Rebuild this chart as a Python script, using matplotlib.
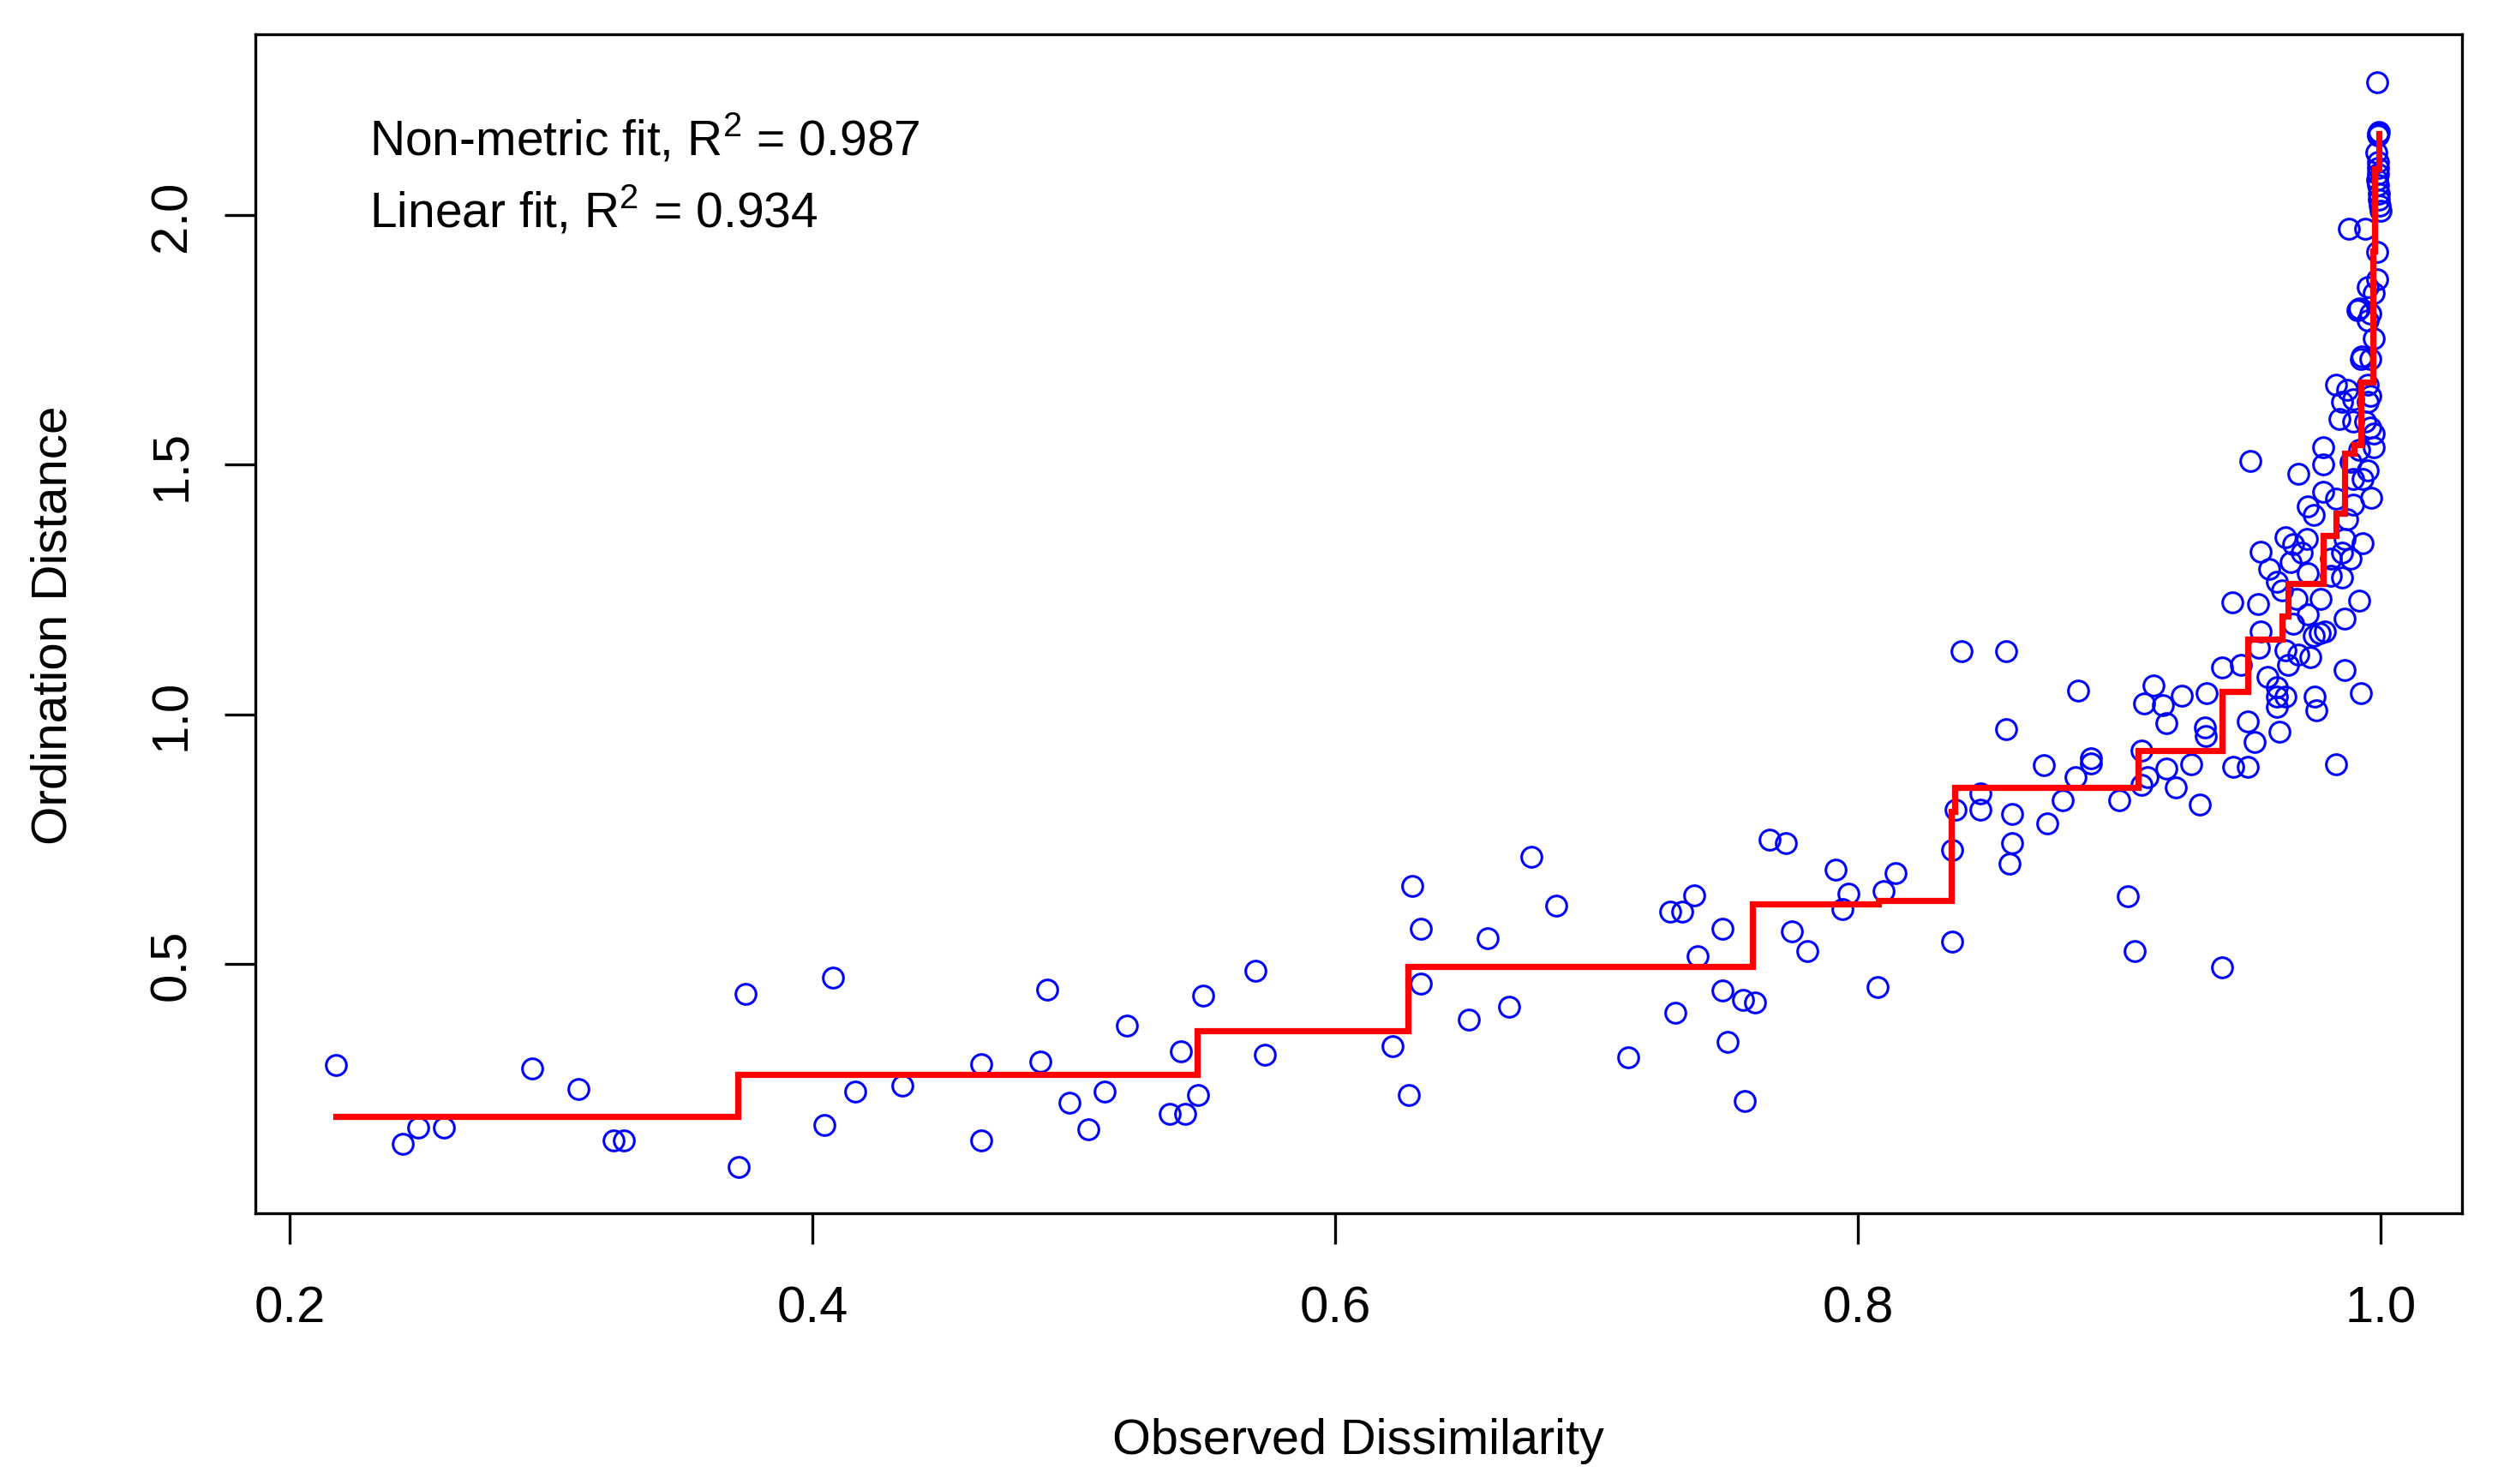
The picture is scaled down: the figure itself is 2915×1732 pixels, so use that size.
import matplotlib
matplotlib.use("Agg")
import matplotlib.pyplot as plt

plt.rcParams['font.family'] = ['Liberation Sans', 'DejaVu Sans']

# observed dissimilarity vs ordination distance
obs_low = [0.2177, 0.2431, 0.2490, 0.2589, 0.2925, 0.3105, 0.3237, 0.3277, 0.3717, 0.3743,
           0.4044, 0.4078, 0.4164, 0.4344, 0.4646, 0.4646, 0.4872, 0.4896, 0.4982, 0.5055,
           0.5116, 0.5201, 0.5366, 0.5409, 0.5427, 0.5476, 0.5494, 0.5695, 0.5732]
ord_low = [0.297, 0.140, 0.172, 0.172, 0.290, 0.250, 0.146, 0.146, 0.093, 0.440,
           0.178, 0.472, 0.244, 0.257, 0.299, 0.146, 0.305, 0.449, 0.222, 0.168,
           0.245, 0.376, 0.200, 0.324, 0.200, 0.238, 0.436, 0.487, 0.318]

obs_mid = [0.6220, 0.6281, 0.6293, 0.6328, 0.6328, 0.6511, 0.6583, 0.6666, 0.6750, 0.6847,
           0.7122, 0.7281, 0.7302, 0.7327, 0.7374, 0.7386, 0.7483, 0.7483, 0.7500, 0.7562,
           0.7567, 0.7607, 0.7662, 0.7726, 0.7749, 0.7808, 0.7916, 0.7940, 0.7963, 0.8074,
           0.8097, 0.8144, 0.8362, 0.8362, 0.8373, 0.8398, 0.8470, 0.8470, 0.8566, 0.8566,
           0.8591, 0.8591, 0.8579, 0.8711, 0.8725, 0.8783, 0.8833, 0.8842, 0.8892, 0.8892,
           0.9001, 0.9034, 0.9059, 0.9084, 0.9084]
ord_mid = [0.335, 0.237, 0.656, 0.570, 0.460, 0.388, 0.551, 0.414, 0.714, 0.616,
           0.312, 0.604, 0.402, 0.604, 0.638, 0.516, 0.570, 0.447, 0.344, 0.427,
           0.226, 0.422, 0.748, 0.742, 0.565, 0.525, 0.689, 0.610, 0.640, 0.453,
           0.645, 0.682, 0.728, 0.545, 0.808, 1.127, 0.842, 0.808, 1.127, 0.970,
           0.801, 0.742, 0.701, 0.898, 0.782, 0.828, 0.874, 1.048, 0.911, 0.902,
           0.828, 0.636, 0.525, 0.928, 0.859]

obs_upper = [0.9096, 0.9131, 0.9168, 0.9180, 0.9238, 0.9335, 0.9327, 0.9332, 0.9110, 0.9180,
             0.9277, 0.9218, 0.9310, 0.9394, 0.9394, 0.9465, 0.9438, 0.9492, 0.9492, 0.9520,
             0.9613, 0.9432, 0.9503, 0.9531, 0.9542, 0.9575, 0.9542, 0.9536, 0.9569, 0.9602,
             0.9602, 0.9602, 0.9635, 0.9646, 0.9635, 0.9831, 0.9864, 0.9924, 0.9749, 0.9755]
ord_upper = [1.022, 1.057, 1.019, 0.982, 1.037, 1.042, 0.974, 0.957, 0.874, 0.891,
             0.899, 0.854, 0.819, 0.493, 1.094, 1.099, 0.894, 0.894, 0.985, 0.945,
             0.965, 1.225, 1.507, 1.220, 1.325, 1.291, 1.165, 1.134, 1.074, 1.054,
             1.036, 1.014, 1.036, 1.099, 1.128, 0.899, 1.088, 1.042, 1.036, 1.008]

obs_dense = [0.9782, 0.9782, 0.9842, 0.9687, 0.9782, 0.9722, 0.9744, 0.9963, 0.9930, 0.9897,
             0.9635, 0.9667, 0.9717, 0.9700, 0.9656, 0.9602, 0.9624, 0.9722, 0.9853, 0.9930,
             0.9864, 0.9810, 0.9853, 0.9810, 0.9771, 0.9919, 0.9864, 0.9722, 0.9667, 0.9766,
             0.9744, 0.9788, 0.9684, 0.9733,
             0.9831, 0.9951, 0.9853, 0.9962, 0.9940, 0.9973, 0.9918, 0.9973, 0.9885, 0.9951,
             0.9896, 0.9831, 0.9874, 0.9885, 0.9678]
ord_dense = [1.534, 1.500, 1.591, 1.482, 1.446, 1.417, 1.400, 1.434, 1.471, 1.420,
             1.354, 1.340, 1.351, 1.323, 1.305, 1.265, 1.248, 1.283, 1.323, 1.343,
             1.351, 1.311, 1.274, 1.277, 1.231, 1.228, 1.191, 1.200, 1.182, 1.162,
             1.157, 1.165, 1.120, 1.114,
             1.660, 1.660, 1.626, 1.637, 1.586, 1.563, 1.529, 1.534, 1.506, 1.489,
             1.471, 1.431, 1.391, 1.311, 1.231]

obs_top = [0.9987, 0.9992, 0.9990, 0.9995, 0.9990, 0.9990, 0.9990, 0.9995, 0.9998, 1.0000,
           0.9880, 0.9940, 0.9987, 0.9987, 0.9951, 0.9973, 0.9913, 0.9918, 0.9962, 0.9951,
           0.9973, 0.9924, 0.9928, 0.9962, 0.9874, 0.9896, 0.9951, 0.9896, 0.9962,
           0.9985, 0.9992, 0.9988, 0.9995]
ord_top = [2.2665, 2.163, 2.160, 2.166, 2.106, 2.083, 2.060, 2.043, 2.018, 2.009,
           1.972, 1.972, 1.926, 1.872, 1.855, 1.843, 1.809, 1.812, 1.803, 1.789,
           1.752, 1.712, 1.716, 1.712, 1.649, 1.631, 1.626, 1.586, 1.574,
           2.125, 2.095, 2.070, 2.030]

observed = obs_low + obs_mid + obs_upper + obs_dense + obs_top
ordination = ord_low + ord_mid + ord_upper + ord_dense + ord_top

# isotonic (non-metric) fit, step edges
step_x = [0.2174, 0.3713, 0.547, 0.6278, 0.7598, 0.8079, 0.8358, 0.8371, 0.9073, 0.9393,
          0.9491, 0.9622, 0.9646, 0.978, 0.983, 0.9863, 0.990, 0.9924, 0.9972, 0.9976, 0.9994]
step_y = [0.1945, 0.279, 0.3656, 0.4955, 0.620, 0.627, 0.8055, 0.8535, 0.928, 1.0455,
          1.151, 1.1968, 1.2615, 1.3586, 1.4027, 1.5228, 1.540, 1.6658, 1.927, 2.092, 2.1635]

x_ticks = [0.2, 0.4, 0.6, 0.8, 1.0]
y_ticks = [0.5, 1.0, 1.5, 2.0]
fit_labels = [r'Non-metric fit, R$^\mathregular{2}$ = 0.987',
              r'Linear fit, R$^\mathregular{2}$ = 0.934']

W, H = 2915, 1733
fig = plt.figure(figsize=(W / 100, H / 100), dpi=100)
ax = fig.add_axes([297.6 / W, 1 - 1416.7 / H, (2873 - 297.6) / W, (1416.7 - 41) / H])

ax.plot(observed, ordination, 'o', mfc='none', mec='#0000ff', ms=17, mew=2.2)
ax.plot(step_x, step_y, color='#ff0000', lw=5.2, drawstyle='steps-post',
        solid_joinstyle='miter')

ax.set_xlim(0.1866, 1.0312)
ax.set_ylim(0.001, 2.362)
ax.set_xticks(x_ticks)
ax.set_xticklabels(['0.2', '0.4', '0.6', '0.8', '1.0'])
ax.set_yticks(y_ticks)
ax.set_yticklabels(['0.5', '1.0', '1.5', '2.0'], rotation=90, va='center')
ax.tick_params(axis='both', direction='out', length=26, width=2.4, labelsize=43)
ax.tick_params(axis='x', pad=34)
ax.tick_params(axis='y', pad=24)
for s in ax.spines.values():
    s.set_linewidth(2.4)

ax.text(0.2302, 2.1206, fit_labels[0], fontsize=41, va='baseline', ha='left')
ax.text(0.2302, 1.9764, fit_labels[1], fontsize=41, va='baseline', ha='left')

fig.text(1585 / W, 1 - 1697.3 / H, 'Observed Dissimilarity', fontsize=41.5,
         ha='center', va='baseline')
fig.text(62 / W, 1 - 730 / H, 'Ordination Distance', fontsize=42,
         rotation=90, ha='center', va='center')

fig.savefig('out.png', dpi=100)
